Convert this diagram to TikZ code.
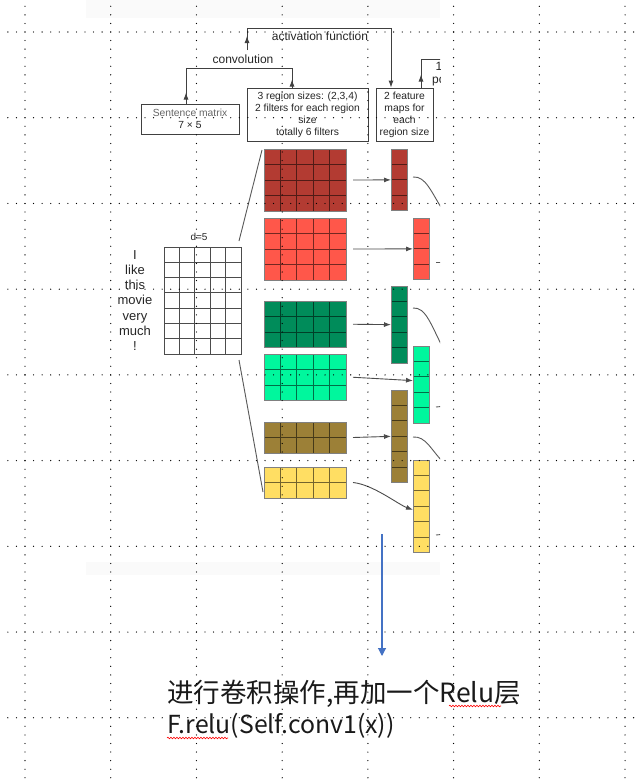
\documentclass[tikz,border=0pt]{standalone}
\usepackage{fontspec}
\setmainfont{Liberation Sans}
\newfontfamily\cjk{Noto Sans CJK SC}
\usetikzlibrary{arrows.meta,decorations.pathmorphing}
\definecolor{cA}{HTML}{B33B32}
\definecolor{cB}{HTML}{FF574A}
\definecolor{cC}{HTML}{008C5A}
\definecolor{cD}{HTML}{00F79D}
\definecolor{cE}{HTML}{9C8037}
\definecolor{cF}{HTML}{FFDE63}
\definecolor{bluearr}{HTML}{4472C4}
\begin{document}
\begin{tikzpicture}[x=1pt,y=-1pt,
  box/.style={draw=black!75, line width=0.9pt, inner sep=0pt, align=center, font=\fontsize{10.3}{12}\selectfont, text=black!85},
  lab/.style={font=\fontsize{12}{14}\selectfont, text=black!85, inner sep=0pt},
  conn/.style={draw=black!75, line width=0.9pt},
  arrowed/.style={-{Latex[length=7pt,width=5pt]}},
  mline/.style={draw=black!70, line width=0.9pt},
  filt/.style={inner sep=0pt, outer sep=0pt, minimum width=82pt},
  fmap/.style={inner sep=0pt, outer sep=0pt, minimum width=16.5pt},
  farrow/.style={draw=black!70, line width=0.9pt, -{Latex[length=7pt,width=5pt]}},
  curv/.style={draw=black!65, line width=0.9pt},
  gridots/.style={draw=black, line width=1.3pt, line cap=round, dash pattern=on 0pt off 8.572pt},
  squig/.style={draw=red, line width=0.6pt, decorate, decoration={snake, amplitude=0.8pt, segment length=3pt}}
]
\useasboundingbox (0,0) rectangle (635,779);
\fill[white] (0,0) rectangle (635,779);
\fill[black!2] (86,0) rectangle (440,18);
\fill[black!2] (86,562) rectangle (440,575);

% top boxes
\node[box, minimum width=98pt, minimum height=30pt] (sm) at (190,119) {\textcolor{black!60}{Sentence matrix}\\7 × 5};
\node[box, minimum width=121pt, minimum height=53pt] (rs) at (307.5,114.5) {3 region sizes: (2,3,4)\\2 filters for each region\\size\\totally 6 filters};
\node[box, minimum width=57pt, minimum height=53pt] (fm) at (404.5,114.5) {2 feature\\maps for\\each\\region size};

\node[lab] (conv) at (243,59) {convolution};
\node[lab] (act) at (320,36) {activation function};

% convolution connector
\coordinate (j1) at (186,68);
\coordinate (j2) at (292,68);
\draw[conn] ([xshift=-4pt]sm.north) -- (j1) -- (j2) -- ([xshift=-15.5pt]rs.north);
\draw[conn, arrowed] ([xshift=-4pt]sm.north) -- ++(0,-11);
\draw[conn, arrowed] ([xshift=-15.5pt]rs.north) -- ++(0,-8);

% activation connector
\coordinate (a0) at (247,50);
\coordinate (a1) at (247,28);
\coordinate (a2) at (391,28);
\draw[conn, arrowed] (a0) -- (a1) -- (a2) -- (a2 |- fm.north);
\draw[conn, arrowed] (a0) -- (247,36);

% word matrix
\node[font=\fontsize{13}{15.2}\selectfont, align=center, inner sep=0pt, text=black!85] (words) at (135,300.5) {I\\like\\this\\movie\\very\\much\\!};
\node[draw=black!70, line width=0.9pt, minimum width=77pt, minimum height=107pt, inner sep=0pt, outer sep=0pt, anchor=north west] (wm) at (164,247) {};
\foreach \i in {1,...,4} \draw[mline] (164+\i*15.4,247) -- (164+\i*15.4,354);
\foreach \j in {1,...,6} \draw[mline] (164,247+\j*15.286) -- (241,247+\j*15.286);
\node[lab, font=\fontsize{10}{12}\selectfont] (dlab) at (199,237) {d=5};

\coordinate (s1) at (239,241);
\coordinate (s2) at (262,150);
\coordinate (s3) at (239,360);
\coordinate (s4) at (263,492);
\draw[curv] (s1) -- (s2);
\draw[curv] (s3) -- (s4);

% filters
\foreach \n/\c/\y/\r in {f1/cA/149/4, f2/cB/218/4, f3/cC/301/3, f4/cD/354/3, f5/cE/422/2, f6/cF/467/2} {
  \node[filt, fill=\c, minimum height=\r*15.5pt, anchor=north west] (\n) at (264,\y) {};
  \foreach \i in {1,...,4} \draw[draw=\c!45!black, line width=0.9pt] (264+\i*16.4,\y) -- (264+\i*16.4,\y+\r*15.5);
  \pgfmathtruncatemacro\rr{\r-1}
  \foreach \j in {1,...,\rr} \draw[draw=\c!45!black, line width=0.9pt] (264,\y+\j*15.5) -- (346,\y+\j*15.5);
  \draw[draw=black!50, line width=0.9pt] (\n.north west) rectangle (\n.south east);
}

% feature maps
\foreach \n/\c/\x/\y/\r in {m1/cA/391/149/4, m2/cB/413/218/4, m3/cC/391/286/5, m4/cD/413/346/5, m5/cE/391/390/6, m6/cF/413/460/6} {
  \node[fmap, fill=\c, minimum height=\r*15.45pt, anchor=north west] (\n) at (\x,\y) {};
  \pgfmathtruncatemacro\rr{\r-1}
  \foreach \j in {1,...,\rr} \draw[draw=\c!45!black, line width=0.9pt] (\x,\y+\j*15.45) -- (\x+16.5,\y+\j*15.45);
  \draw[draw=black!50, line width=0.9pt] (\n.north west) rectangle (\n.south east);
}

% filter -> map arrows
\draw[farrow] ([xshift=7pt]f1.east) -- (m1.west);
\draw[farrow] ([xshift=7pt]f2.east) -- (m2.west);
\draw[farrow] ([xshift=7pt]f3.east) -- (m3.west);
\draw[farrow] ([xshift=7pt]f4.east) -- ([yshift=4pt]m4.west);
\draw[farrow] ([xshift=7pt]f5.east) -- (m5.west);
\draw[farrow] ([xshift=7pt]f6.east) .. controls ([xshift=27pt,yshift=-2pt]f6.east) and ([xshift=-15pt,yshift=2pt]m6.west) .. ([yshift=-3.5pt]m6.west);

% clipped right part
\begin{scope}
\clip (86,0) rectangle (440,575);
\coordinate (p1) at (421,59);
\coordinate (p2) at (460,59);
\draw[conn] ([xshift=16.5pt]fm.north) -- (p1) -- (p2);
\draw[conn, arrowed] ([xshift=16.5pt]fm.north) -- ++(0,-13);
\node[lab, anchor=west] (pl1) at (435.5,66) {1-max};
\node[lab, anchor=west] (pl2) at (432,80) {pooling};
\draw[curv] (413,177) .. controls (426,176) and (431,192) .. (444,212);
\draw[curv] (413,308) .. controls (426,307) and (431,325) .. (444,350);
\draw[curv] (413,437) .. controls (426,436) and (431,450) .. (444,463);
\draw[curv] (436,262) -- (446,262);
\draw[curv] (436,407) -- (446,406);
\draw[curv] (436,535) -- (446,534);
\end{scope}

% blue arrow
\coordinate (b0) at (382,534);
\coordinate (b1) at (382,656);
\draw[draw=bluearr, line width=1.1pt, -{Triangle[length=8pt,width=8pt]}] (b0) -- (b1);

% bottom text
\node[anchor=base west, inner sep=0pt, font=\cjk\fontsize{26.5}{30}\selectfont, text=black!90] (t1) at (167,702) {进行卷积操作,再加一个Relu层};
\node[anchor=base west, inner sep=0pt, font=\cjk\fontsize{24.8}{30}\selectfont, text=black!90] (t2) at (167,733) {F.relu(Self.conv1(x))};
\draw[squig] (449,706) -- (501,706);
\draw[squig] (167,738) -- (228,738);

% dotted grid
\foreach \k in {0,...,7} \draw[gridots] ({25+85.72*\k},-2.29) -- ({25+85.72*\k},781);
\foreach \k in {0,...,8} \draw[gridots] (-0.716,{32+85.72*\k}) -- (637,{32+85.72*\k});
\end{tikzpicture}
\end{document}
